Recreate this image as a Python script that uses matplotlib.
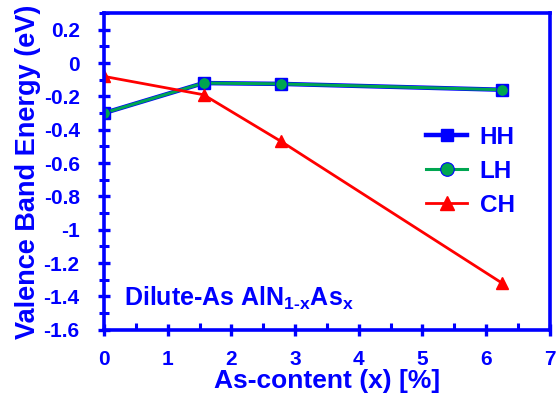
import matplotlib
matplotlib.use("Agg")
import matplotlib.pyplot as plt
from matplotlib.ticker import MultipleLocator

plt.rcParams['font.family'] = 'Liberation Sans'
plt.rcParams['font.weight'] = 'bold'
plt.rcParams['axes.unicode_minus'] = False
plt.rcParams['mathtext.fontset'] = 'custom'
plt.rcParams['mathtext.rm'] = 'Liberation Sans:bold'
plt.rcParams['mathtext.it'] = 'Liberation Sans:bold'
plt.rcParams['mathtext.bf'] = 'Liberation Sans:bold'
plt.rcParams['mathtext.default'] = 'rm'

# As content in percent and band energies in eV
x = [0, 1.5625, 2.78, 6.25]
hh = [-0.30, -0.12, -0.125, -0.16]
lh = [-0.30, -0.12, -0.125, -0.16]
ch = [-0.08, -0.19, -0.47, -1.32]

yticks = [0.2, 0, -0.2, -0.4, -0.6, -0.8, -1, -1.2, -1.4, -1.6]
ytick_labels = ['0.2', '0', '-0.2', '-0.4', '-0.6', '-0.8', '-1', '-1.2', '-1.4', '-1.6']

blue = '#0000FF'
green = '#00A651'
red = '#FF0000'

fig = plt.figure(figsize=(5.56, 3.95), dpi=100)
ax = fig.add_axes([0.187, 0.165, 0.802, 0.802])

ax.plot(x, hh, color=blue, lw=3.2, marker='s', ms=8, label='HH')
ax.plot(x, lh, color=green, lw=2.2, marker='o', ms=8.5, mec=blue, mew=0.8, label='LH')
ax.plot(x, ch, color=red, lw=2.0, marker='^', ms=9, label='CH')

ax.set_xlim(0, 7)
ax.set_ylim(-1.6, 0.3)
ax.xaxis.set_major_locator(MultipleLocator(1))
ax.xaxis.set_minor_locator(MultipleLocator(0.5))
ax.yaxis.set_minor_locator(MultipleLocator(0.1))
ax.set_yticks(yticks)
ax.set_yticklabels(ytick_labels)

for s in ax.spines.values():
    s.set_color(blue)
    s.set_linewidth(2.6)
ax.tick_params(which='major', direction='inout', length=9, width=2.4, color=blue,
               labelcolor=blue, labelsize=15)
ax.tick_params(axis='y', which='major', pad=13)
ax.tick_params(axis='x', which='major', pad=10)
ax.tick_params(axis='x', which='minor', direction='in', length=5, width=2.2, color=blue)
ax.tick_params(axis='y', which='minor', direction='inout', length=7, width=2.2, color=blue)
for lab in ax.get_xticklabels() + ax.get_yticklabels():
    lab.set_fontweight('bold')

ax.set_xlabel('As-content (x) [%]', color=blue, fontsize=19, fontweight='bold', labelpad=0)
ax.set_ylabel('Valence Band Energy (eV)', color=blue, fontsize=19.5, fontweight='bold', labelpad=2)

ax.text(0.32, -1.41, r'Dilute-As AlN$_{1\text{-}x}$As$_{x}$', color=blue, fontsize=18,
        fontweight='bold', ha='left', va='center')

leg = ax.legend(loc='center right', bbox_to_anchor=(0.97, 0.5), frameon=False,
                prop={'size': 17.5, 'weight': 'bold'}, handlelength=1.7,
                labelspacing=0.45, handletextpad=0.5, markerscale=1.15, alignment='right')
for t in leg.get_texts():
    t.set_color(blue)

fig.savefig('out.png', dpi=100)
